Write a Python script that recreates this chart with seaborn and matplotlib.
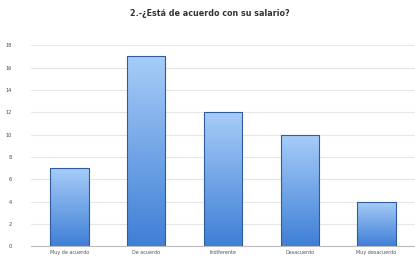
import numpy as np
import pandas as pd
import seaborn as sns
from matplotlib import pyplot as plt
from matplotlib.colors import LinearSegmentedColormap

categories = ["Muy de acuerdo", "De acuerdo", "Indiferente", "Desacuerdo", "Muy desacuerdo"]
values = [7, 17, 12, 10, 4]
yticks = list(range(0, 19, 2))
title = "2.-¿Está de acuerdo con su salario?"

df = pd.DataFrame({"respuesta": categories, "n": values})

sns.set_style("white")
fig = plt.figure(figsize=(4.15, 2.58), dpi=100)
ax = fig.add_axes([0.075, 0.045, 0.925, 0.78])

sns.barplot(data=df, x="respuesta", y="n", color="#6aa0e8", width=0.5,
            edgecolor="#2f5c9c", linewidth=0.8, ax=ax, zorder=2)

# vertical gradient: light at top, darker blue at bottom
cmap = LinearSegmentedColormap.from_list("grad", ["#3f7fd6", "#a8cdf8"])
grad = np.linspace(0, 1, 256).reshape(-1, 1)
for p in ax.patches:
    x0, y0 = p.get_x(), p.get_y()
    w, h = p.get_width(), p.get_height()
    p.set_facecolor("none")
    im = ax.imshow(grad, cmap=cmap, origin="lower", aspect="auto",
                   extent=[x0, x0 + w, y0, y0 + h], zorder=1.5)
    im.set_clip_path(p)

ax.set_xlim(-0.5, len(categories) - 0.5)
ax.set_ylim(0, 18)
ax.set_yticks(yticks)
ax.set_yticklabels([str(t) for t in yticks], fontsize=3.5, color="#444444")
ax.tick_params(axis="x", labelsize=3.5, colors="#555555", pad=2.5, length=0)
ax.tick_params(axis="y", length=0, pad=14)
ax.yaxis.grid(True, color="#e6e6e6", linewidth=0.8, zorder=0)
ax.set_axisbelow(True)
for s in ["top", "right", "left"]:
    ax.spines[s].set_visible(False)
ax.spines["bottom"].set_color("#bbbbbb")
ax.set_xlabel("")
ax.set_ylabel("")
fig.suptitle(title, fontsize=5.8, fontweight="bold", color="#333333", y=0.965, x=0.505)

plt.savefig("out.png", dpi=100)
